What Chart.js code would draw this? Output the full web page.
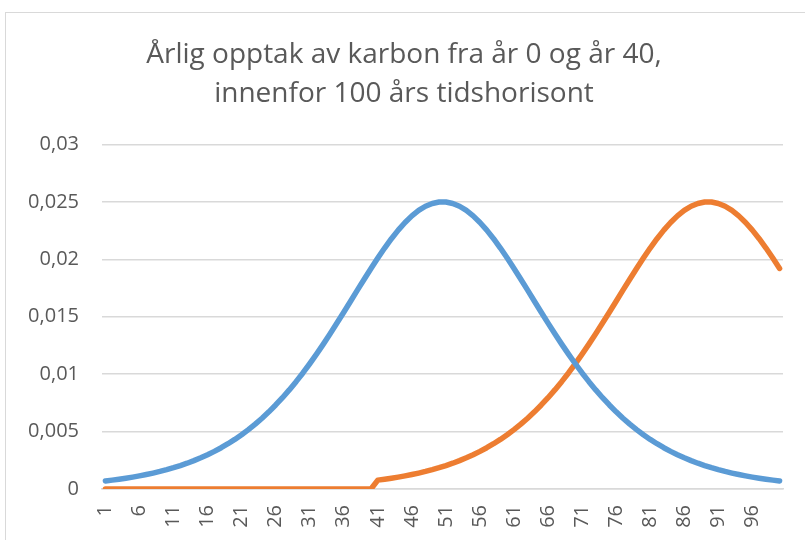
<!DOCTYPE html>
<html>
<head>
<meta charset="utf-8">
<script src="https://cdn.jsdelivr.net/npm/chart.js@4/dist/chart.umd.min.js"></script>
<style>
  html, body { margin: 0; padding: 0; background: #ffffff; }
  body { width: 805px; height: 540px; position: relative; overflow: hidden; }
  .frame { position: absolute; left: 5px; top: 12px; width: 830px; height: 560px; border: 1px solid #d9d9d9; box-sizing: border-box; }
  .wrap { position: absolute; left: 0; top: 0; width: 805px; height: 540px; }
</style>
</head>
<body>
<div class="frame"></div>
<div class="wrap"><canvas id="chart" width="805" height="540"></canvas></div>
<script>
// categories: years 1..100
const years = [
  '1','2','3','4','5','6','7','8','9','10','11','12','13','14','15','16','17','18','19','20',
  '21','22','23','24','25','26','27','28','29','30','31','32','33','34','35','36','37','38','39','40',
  '41','42','43','44','45','46','47','48','49','50','51','52','53','54','55','56','57','58','59','60',
  '61','62','63','64','65','66','67','68','69','70','71','72','73','74','75','76','77','78','79','80',
  '81','82','83','84','85','86','87','88','89','90','91','92','93','94','95','96','97','98','99','100'
];

// planted year 0
const uptakeYear0 = [
  0.000698, 0.000771, 0.000850, 0.000938, 0.001035, 0.001141, 0.001258, 0.001387, 0.001528, 0.001683,
  0.001853, 0.002040, 0.002245, 0.002469, 0.002714, 0.002982, 0.003275, 0.003593, 0.003940, 0.004317,
  0.004726, 0.005169, 0.005648, 0.006163, 0.006718, 0.007313, 0.007949, 0.008626, 0.009345, 0.010104,
  0.010904, 0.011741, 0.012613, 0.013515, 0.014443, 0.015390, 0.016349, 0.017311, 0.018265, 0.019203,
  0.020111, 0.020977, 0.021790, 0.022535, 0.023201, 0.023776, 0.024250, 0.024613, 0.024860, 0.024984,
  0.024984, 0.024860, 0.024613, 0.024250, 0.023776, 0.023201, 0.022535, 0.021790, 0.020977, 0.020111,
  0.019203, 0.018265, 0.017311, 0.016349, 0.015390, 0.014443, 0.013515, 0.012613, 0.011741, 0.010904,
  0.010104, 0.009345, 0.008626, 0.007949, 0.007313, 0.006718, 0.006163, 0.005648, 0.005169, 0.004726,
  0.004317, 0.003940, 0.003593, 0.003275, 0.002982, 0.002714, 0.002469, 0.002245, 0.002040, 0.001853,
  0.001683, 0.001528, 0.001387, 0.001258, 0.001141, 0.001035, 0.000938, 0.000850, 0.000771, 0.000698
];

// planted year 40
const uptakeYear40 = [
  0, 0, 0, 0, 0, 0, 0, 0, 0, 0,
  0, 0, 0, 0, 0, 0, 0, 0, 0, 0,
  0, 0, 0, 0, 0, 0, 0, 0, 0, 0,
  0, 0, 0, 0, 0, 0, 0, 0, 0, 0,
  0.000771, 0.000850, 0.000938, 0.001035, 0.001141, 0.001258, 0.001387, 0.001528, 0.001683, 0.001853,
  0.002040, 0.002245, 0.002469, 0.002714, 0.002982, 0.003275, 0.003593, 0.003940, 0.004317, 0.004726,
  0.005169, 0.005648, 0.006163, 0.006718, 0.007313, 0.007949, 0.008626, 0.009345, 0.010104, 0.010904,
  0.011741, 0.012613, 0.013515, 0.014443, 0.015390, 0.016349, 0.017311, 0.018265, 0.019203, 0.020111,
  0.020977, 0.021790, 0.022535, 0.023201, 0.023776, 0.024250, 0.024613, 0.024860, 0.024984, 0.024984,
  0.024860, 0.024613, 0.024250, 0.023776, 0.023201, 0.022535, 0.021790, 0.020977, 0.020111, 0.019203
];

const yTickValues = [0, 0.005, 0.01, 0.015, 0.02, 0.025, 0.03];
const yTickLabels = ['0', '0,005', '0,01', '0,015', '0,02', '0,025', '0,03'];

const titleLines = ['Årlig opptak av karbon fra år 0 og år 40,', 'innenfor 100 års tidshorisont'];

const textColor = '#595959';
const gridColor = '#d9d9d9';
const fontFamily = '"Open Sans", "Noto Sans", sans-serif';

const ctx = document.getElementById('chart').getContext('2d');

new Chart(ctx, {
    type: 'line',
    data: {
        labels: years,
        datasets: [
            {
                label: 'År 0',
                data: uptakeYear0,
                borderColor: '#5b9bd5',
                borderWidth: 5.5,
                pointRadius: 0,
                tension: 0,
                borderCapStyle: 'round',
                borderJoinStyle: 'round'
            },
            {
                label: 'År 40',
                data: uptakeYear40,
                borderColor: '#ed7d31',
                borderWidth: 5.5,
                pointRadius: 0,
                tension: 0,
                borderCapStyle: 'round',
                borderJoinStyle: 'round'
            }
        ]
    },
    options: {
        responsive: false,
        animation: false,
        // some left padding nudges the title towards the frame centre
        layout: { padding: { left: 25, right: 22, top: 0, bottom: 0 } },
        plugins: {
            legend: { display: false },
            tooltip: { enabled: false },
            title: {
                display: true,
                text: titleLines,
                color: textColor,
                font: { family: fontFamily, size: 28, weight: 'normal', lineHeight: 1.4 },
                padding: { top: 35, bottom: 31 }
            }
        },
        scales: {
            x: {
                offset: true,
                grid: { display: false, drawTicks: false },
                border: { display: true, color: gridColor, width: 1.5 },
                ticks: {
                    autoSkip: false,
                    minRotation: 90,
                    maxRotation: 90,
                    padding: 16,
                    color: textColor,
                    font: { family: fontFamily, size: 20 },
                    callback: (value, index) => (index % 5 === 0 ? years[index] : null)
                },
                afterFit: (scale) => { scale.height = 51; }
            },
            y: {
                min: 0,
                max: 0.03,
                grid: { color: gridColor, lineWidth: 1.5, drawTicks: false },
                border: { display: false },
                afterBuildTicks: (scale) => {
                    scale.ticks = yTickValues.map((v) => ({ value: v }));
                },
                ticks: {
                    padding: 23,
                    color: textColor,
                    font: { family: fontFamily, size: 20 },
                    callback: (value) => yTickLabels[yTickValues.indexOf(value)]
                },
                afterFit: (scale) => { scale.width = 77; }
            }
        }
    }
});
</script>
</body>
</html>
